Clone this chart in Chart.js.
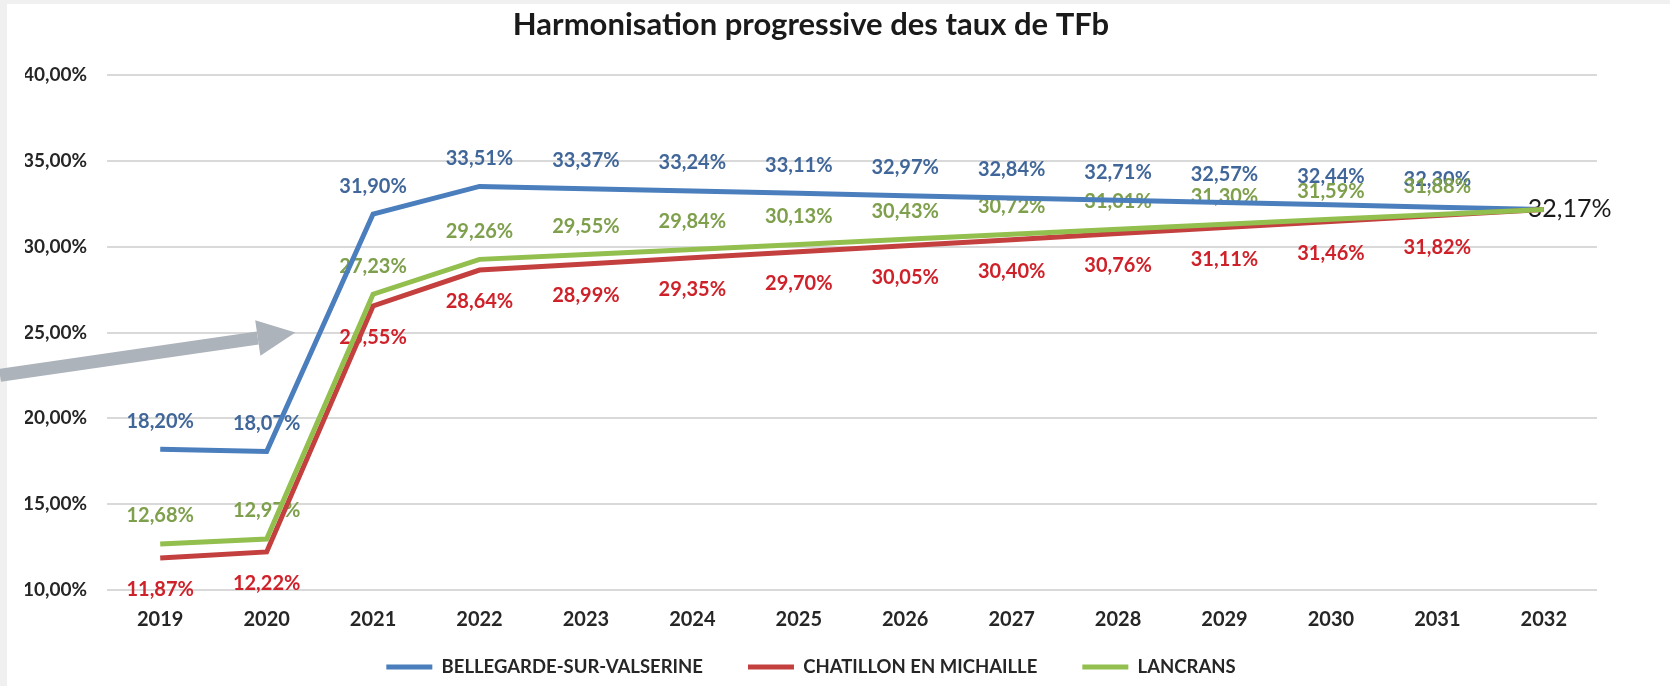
<!DOCTYPE html>
<html>
<head>
<meta charset="utf-8">
<script src="https://cdn.jsdelivr.net/npm/chart.js@4"></script>
<style>
  html, body { margin: 0; padding: 0; background: #f0f0f0; }
  #wrap { width: 1670px; height: 686px; position: relative; }
</style>
</head>
<body>
<div id="wrap"><canvas id="tfbChart"></canvas></div>
<script>
const annees = ["2019", "2020", "2021", "2022", "2023", "2024", "2025", "2026", "2027", "2028", "2029", "2030", "2031", "2032"];
const bellegarde = [18.20, 18.07, 31.90, 33.51, 33.37, 33.24, 33.11, 32.97, 32.84, 32.71, 32.57, 32.44, 32.30, 32.17];
const chatillon = [11.87, 12.22, 26.55, 28.64, 28.99, 29.35, 29.70, 30.05, 30.40, 30.76, 31.11, 31.46, 31.82, 32.17];
const lancrans = [12.68, 12.97, 27.23, 29.26, 29.55, 29.84, 30.13, 30.43, 30.72, 31.01, 31.30, 31.59, 31.88, 32.17];
const yTicks = [10, 15, 20, 25, 30, 35, 40];

const fmt = (v) => v.toFixed(2).replace(".", ",") + "%";

Chart.defaults.font.family = "Lato";

// fond blanc avec la bordure grise de la capture
const fond = {
  id: "fond",
  beforeDraw(chart) {
    const ctx = chart.ctx;
    ctx.save();
    ctx.fillStyle = "#ffffff";
    ctx.fillRect(7, 4, chart.width - 7, chart.height - 4);
    ctx.restore();
  },
};

// remonte la légende (l'espacement horizontal impose un gros padding)
const legendeHaut = {
  id: "legendeHaut",
  afterLayout(chart) {
    chart.legend.top -= 17.25;
    chart.legend.bottom -= 17.25;
  },
};

// étiquettes de données (dessinées sous les courbes, comme dans Excel)
const etiquettes = {
  id: "etiquettes",
  beforeDatasetsDraw(chart) {
    const ctx = chart.ctx;
    ctx.save();
    ctx.textAlign = "center";
    ctx.textBaseline = "middle";
    ctx.font = "bold 20px Lato";
    chart.data.datasets.forEach((ds, i) => {
      const meta = chart.getDatasetMeta(i);
      meta.data.forEach((pt, j) => {
        if (j === ds.data.length - 1) return;
        ctx.fillStyle = ds.labelColor;
        ctx.fillText(fmt(ds.data[j]), pt.x, pt.y + ds.labelOffset);
      });
    });
    // valeur commune finale
    const last = chart.getDatasetMeta(0).data[annees.length - 1];
    ctx.textAlign = "left";
    ctx.fillStyle = "#1a1a1a";
    ctx.font = "25px Lato";
    ctx.fillText(fmt(bellegarde[annees.length - 1]), last.x - 16, last.y);
    ctx.restore();
  },
};

// flèche grise
const fleche = {
  id: "fleche",
  afterDraw(chart) {
    const ctx = chart.ctx;
    const x = chart.scales.x, y = chart.scales.y;
    const x0 = 0, y0 = y.getPixelForValue(22.5);
    const x1 = x.getPixelForValue(1.27), y1 = y.getPixelForValue(25);
    const ang = Math.atan2(y1 - y0, x1 - x0);
    const head = 38, half = 18;
    const bx = x1 - head * Math.cos(ang), by = y1 - head * Math.sin(ang);
    ctx.save();
    ctx.strokeStyle = "#adb3bb";
    ctx.fillStyle = "#adb3bb";
    ctx.lineWidth = 13;
    ctx.beginPath();
    ctx.moveTo(x0, y0);
    ctx.lineTo(bx, by);
    ctx.stroke();
    ctx.beginPath();
    ctx.moveTo(x1, y1);
    ctx.lineTo(bx + half * Math.sin(ang), by - half * Math.cos(ang));
    ctx.lineTo(bx - half * Math.sin(ang), by + half * Math.cos(ang));
    ctx.closePath();
    ctx.fill();
    ctx.restore();
  },
};

new Chart(document.getElementById("tfbChart"), {
  type: "line",
  data: {
    labels: annees,
    datasets: [
      {
        label: "BELLEGARDE-SUR-VALSERINE",
        data: bellegarde,
        borderColor: "#4a7ebd",
        backgroundColor: "#4a7ebd",
        labelColor: "#41679a",
        labelOffset: -28,
        order: 3,
      },
      {
        label: "CHATILLON EN MICHAILLE",
        data: chatillon,
        borderColor: "#c3403f",
        backgroundColor: "#c3403f",
        labelColor: "#cf2129",
        labelOffset: 32,
        order: 2,
      },
      {
        label: "LANCRANS",
        data: lancrans,
        borderColor: "#92bf4e",
        backgroundColor: "#92bf4e",
        labelColor: "#7e9f4b",
        labelOffset: -28,
        order: 1,
      },
    ],
  },
  options: {
    responsive: true,
    maintainAspectRatio: false,
    animation: false,
    elements: {
      line: { borderWidth: 5, tension: 0, fill: false },
      point: { radius: 0, hoverRadius: 0 },
    },
    layout: { padding: { left: 25, right: 73, top: 0, bottom: -17.5 } },
    scales: {
      x: {
        offset: true,
        grid: { display: false },
        border: { display: false },
        ticks: { padding: 10, color: "#262626", font: { size: 20, weight: "bold" } },
        afterFit: (s) => { s.height = 40; },
      },
      y: {
        min: 10,
        max: 40,
        afterBuildTicks: (s) => { s.ticks = yTicks.map((v) => ({ value: v })); },
        grid: { color: "#d9d9d9", lineWidth: 2, drawTicks: false },
        border: { display: false },
        ticks: {
          padding: 20,
          color: "#262626",
          font: { size: 19, weight: "bold" },
          callback: (v) => fmt(v),
        },
        afterFit: (s) => { s.width = 82; },
      },
    },
    plugins: {
      title: {
        display: true,
        text: "Harmonisation progressive des taux de TFb",
        color: "#1a1a1a",
        font: { size: 31, weight: "bold" },
        padding: { top: 6.4, bottom: 31.4 },
      },
      legend: {
        position: "bottom",
        labels: {
          boxWidth: 46,
          boxHeight: 5,
          padding: 45,
          color: "#262626",
          font: { size: 18.5, weight: "bold" },
          sort: (a, b) => a.datasetIndex - b.datasetIndex,
          generateLabels: (chart) =>
            Chart.defaults.plugins.legend.labels.generateLabels(chart).map((it) => {
              it.lineWidth = 0;
              it.fillStyle = it.strokeStyle;
              return it;
            }),
        },
      },
      tooltip: { enabled: false },
    },
  },
  plugins: [fond, legendeHaut, etiquettes, fleche],
});
</script>
</body>
</html>
